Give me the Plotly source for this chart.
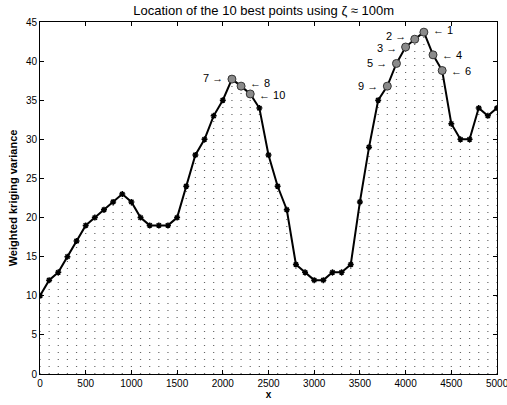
import plotly.graph_objects as go

x_vals = list(range(0, 5001, 100))
variance = [10, 12, 13, 15, 17, 19, 20, 21, 22, 23,
            22, 20, 19, 19, 19, 20, 24, 28, 30, 33,
            35, 37.7, 36.8, 35.8, 34, 28, 24, 21, 14, 13,
            12, 12, 13, 13, 14, 22, 29, 35, 36.8, 39.7,
            41.8, 42.8, 43.7, 40.8, 38.8, 32, 30, 30, 34, 33, 34]

best_rank = [1, 2, 3, 4, 5, 6, 7, 8, 9, 10]
best_x = [4200, 4100, 4000, 4300, 3900, 4400, 2100, 2200, 3800, 2300]
best_side = ["right", "left", "left", "right", "left", "right", "left", "right", "left", "right"]
label_dy = [2, 3, -1, 0, 0, 0, 1, 3, 0, -1]

title_text = "Location of the 10 best points using ζ ≈ 100m"
x_label = "x"
y_label = "Weighted kriging variance"
x_ticks = [0, 500, 1000, 1500, 2000, 2500, 3000, 3500, 4000, 4500, 5000]
y_ticks = [0, 5, 10, 15, 20, 25, 30, 35, 40, 45]

# vertical dotted stems
sx, sy = [], []
for xv, yv in zip(x_vals, variance):
    sx += [xv, xv, None]
    sy += [0, yv, None]

fig = go.Figure()
fig.add_trace(go.Scatter(x=sx, y=sy, mode="lines",
                         line=dict(color="#666666", width=1.2, dash="1px,6px"),
                         hoverinfo="skip", showlegend=False))
fig.add_trace(go.Scatter(x=x_vals, y=variance, mode="lines+markers",
                         line=dict(color="black", width=2),
                         marker=dict(symbol="asterisk", size=5, color="black",
                                     line=dict(color="black", width=1.5)),
                         showlegend=False))
lookup = dict(zip(x_vals, variance))
best_y = [lookup[b] for b in best_x]
fig.add_trace(go.Scatter(x=best_x, y=best_y, mode="markers",
                         marker=dict(symbol="circle", size=8, color="#8a8a8a",
                                     line=dict(color="#333333", width=1)),
                         showlegend=False))

for r, bx, by, side, dy in zip(best_rank, best_x, best_y, best_side, label_dy):
    if side == "right":
        fig.add_annotation(x=bx, y=by, text=f"← {r}", showarrow=False,
                           xanchor="left", xshift=7, yshift=dy,
                           font=dict(size=11, color="black", family="Liberation Sans"))
    else:
        fig.add_annotation(x=bx, y=by, text=f"{r} →", showarrow=False,
                           xanchor="right", xshift=-7, yshift=dy,
                           font=dict(size=11, color="black", family="Liberation Sans"))

# last tick label (partly cut at the right edge, like the reference)
fig.add_annotation(x=x_ticks[-1], y=0, yref="y", text=str(x_ticks[-1]),
                   showarrow=False, xanchor="center", yanchor="top", yshift=-2,
                   font=dict(size=10, color="black", family="Liberation Sans"))

axis_common = dict(showgrid=False, zeroline=False, showline=True, linecolor="black",
                   linewidth=1, mirror="ticks", ticks="inside", ticklen=4,
                   tickcolor="black", tickfont=dict(size=10, color="black",
                                                    family="Liberation Sans"))
fig.update_xaxes(range=[0, 5000], tickvals=x_ticks[:-1] , **axis_common,
                 title=dict(text=f"<b>{x_label}</b>", standoff=0,
                            font=dict(size=10, color="black", family="Liberation Sans")))
fig.update_yaxes(range=[0, 45], tickvals=y_ticks, **axis_common,
                 title=dict(text=f"<b>{y_label}</b>", standoff=6,
                            font=dict(size=11, color="black", family="Liberation Sans")))
fig.update_layout(width=507, height=405,
                  margin=dict(l=40, r=9, t=22, b=24),
                  paper_bgcolor="white", plot_bgcolor="white",
                  title=dict(text=title_text, x=0.52, xanchor="center", y=0.985, yanchor="top",
                             font=dict(size=13, color="black", family="Liberation Sans")))
fig.write_html("out.html")
